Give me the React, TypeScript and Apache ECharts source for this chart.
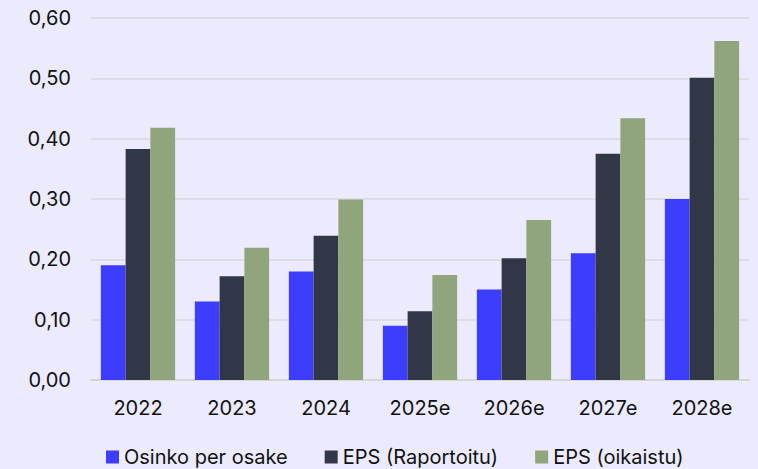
import React, { useEffect, useRef } from "react";
import * as echarts from "echarts";

const categories = ["2022", "2023", "2024", "2025e", "2026e", "2027e", "2028e"];
const osinko = [0.19, 0.13, 0.18, 0.09, 0.15, 0.21, 0.3];
const epsRaportoitu = [0.383, 0.172, 0.239, 0.114, 0.202, 0.375, 0.501];
const epsOikaistu = [0.418, 0.219, 0.299, 0.174, 0.265, 0.434, 0.562];
const seriesNames = ["Osinko per osake", "EPS (Raportoitu)", "EPS (oikaistu)"];
const colors = ["#3d3dff", "#313746", "#91a57d"];

export default function App() {
  const ref = useRef<HTMLDivElement>(null);
  useEffect(() => {
    const chart = echarts.init(ref.current!, null, { renderer: "svg" });
    const font = "Inter, 'Noto Sans', sans-serif";
    chart.setOption({
      animation: false,
      backgroundColor: "#ecebfd",
      textStyle: { fontFamily: font },
      grid: { left: 91, right: 9, top: 18, bottom: 89, containLabel: false },
      legend: {
        top: 447,
        left: 101,
        padding: [0, 5],
        itemWidth: 13,
        itemHeight: 13,
        itemGap: 37,
        icon: "rect",
        textStyle: { fontSize: 20, color: "#111", fontFamily: font },
        data: seriesNames,
      },
      xAxis: {
        type: "category",
        data: categories,
        axisTick: { show: false },
        axisLine: { lineStyle: { color: "#d6d6d6", width: 2 } },
        axisLabel: { fontSize: 20, color: "#111", margin: 18 },
      },
      yAxis: {
        type: "value",
        min: 0,
        max: 0.6,
        interval: 0.1,
        axisLabel: {
          fontSize: 20,
          color: "#111",
          margin: 20,
          formatter: (v: number) => v.toFixed(2).replace(".", ","),
        },
        splitLine: { lineStyle: { color: "#d9d9dc", width: 1.5 } },
        axisLine: { show: false },
        axisTick: { show: false },
      },
      series: [osinko, epsRaportoitu, epsOikaistu].map((d, i) => ({
        name: seriesNames[i],
        type: "bar",
        data: d,
        barGap: "0%",
        barCategoryGap: "21%",
        itemStyle: { color: colors[i] },
      })),
    });
    return () => chart.dispose();
  }, []);
  return <div ref={ref} style={{ width: 758, height: 469, position: "absolute", left: 0, top: 0 }} />;
}
